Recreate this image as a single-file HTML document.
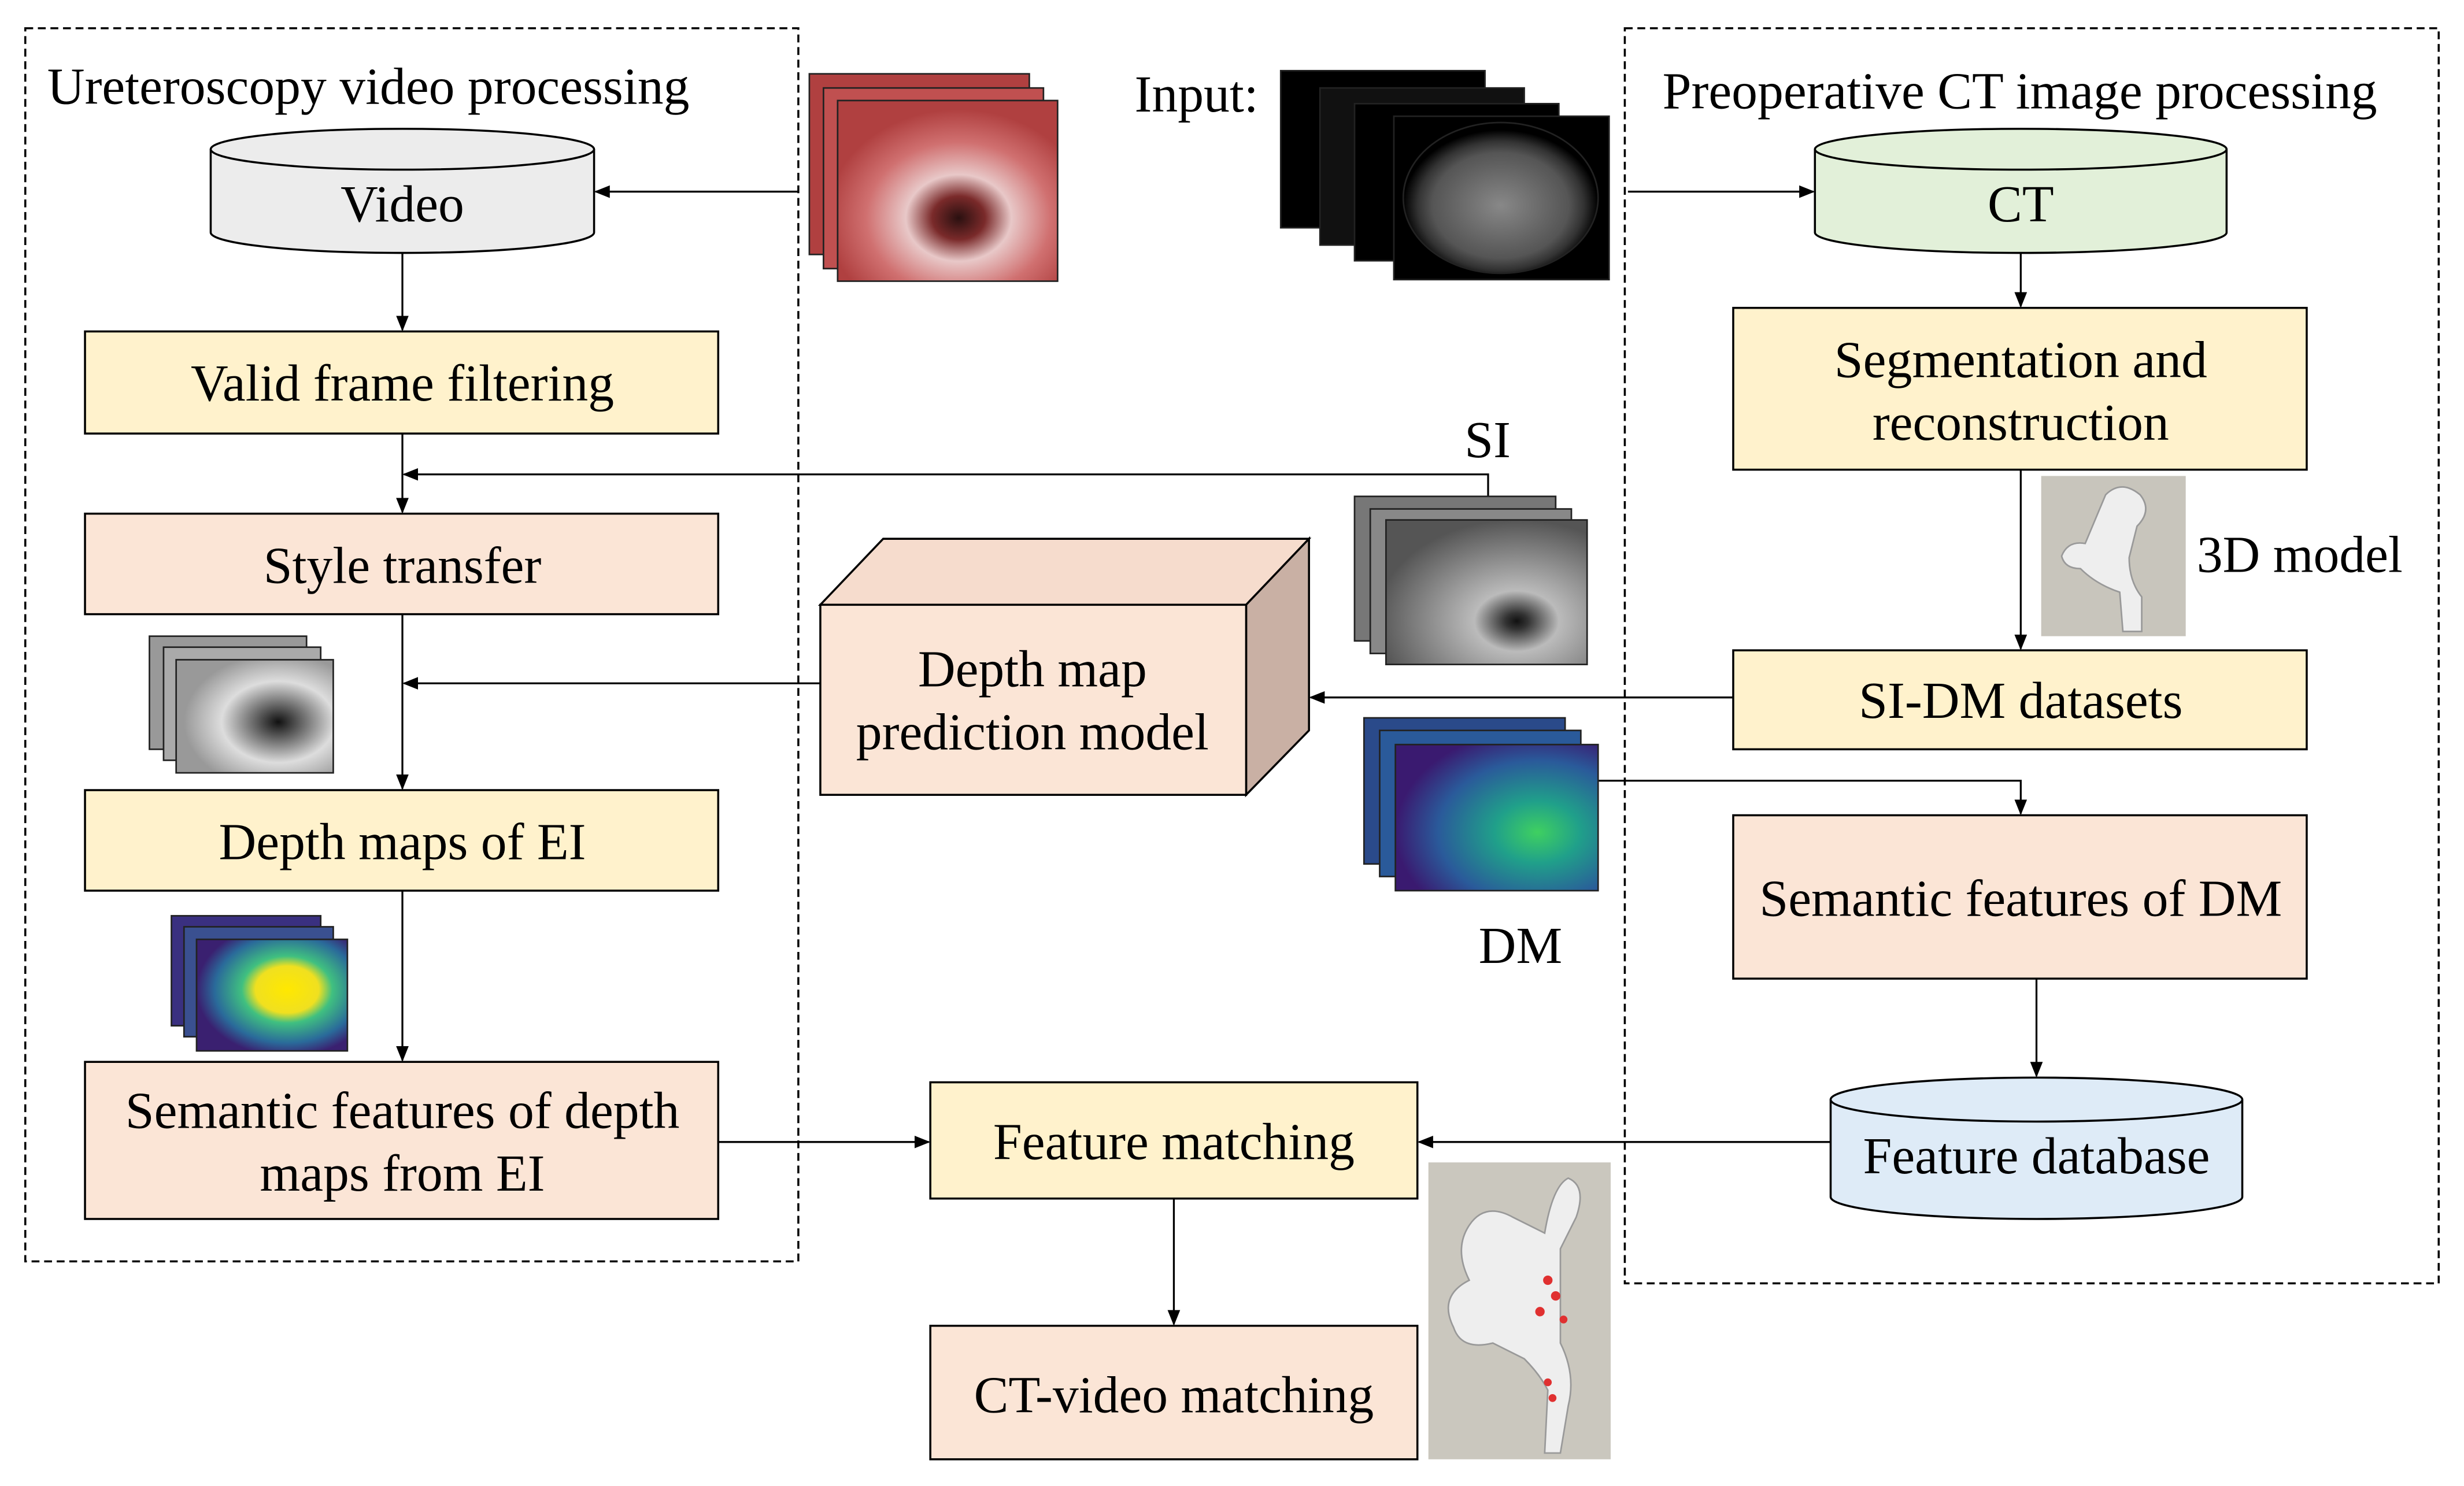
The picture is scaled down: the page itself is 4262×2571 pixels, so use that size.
<!DOCTYPE html>
<html><head><meta charset="utf-8"><style>
html,body{margin:0;padding:0;background:#fff;}
svg{display:block;}
text{font-family:"Liberation Serif",serif;fill:#000;}
</style></head><body>
<svg width="4262" height="2571" viewBox="0 0 1568 946" xmlns="http://www.w3.org/2000/svg">
<defs>
<marker id="a" markerWidth="10" markerHeight="10" refX="9" refY="5" orient="auto" markerUnits="userSpaceOnUse"><path d="M0,1 L10,5 L0,9 z" fill="#000"/></marker>
<radialGradient id="endo" cx="55%" cy="65%" r="60%"><stop offset="0" stop-color="#2a1010"/><stop offset="0.2" stop-color="#7a2a2a"/><stop offset="0.4" stop-color="#e8c8c8"/><stop offset="0.7" stop-color="#d07070"/><stop offset="1" stop-color="#b04040"/></radialGradient>
<radialGradient id="ct" cx="50%" cy="55%" r="50%"><stop offset="0" stop-color="#888"/><stop offset="0.7" stop-color="#555"/><stop offset="0.85" stop-color="#333"/><stop offset="1" stop-color="#000"/></radialGradient>
<radialGradient id="si" cx="65%" cy="70%" r="70%"><stop offset="0" stop-color="#111"/><stop offset="0.08" stop-color="#333"/><stop offset="0.3" stop-color="#bbb"/><stop offset="1" stop-color="#555"/></radialGradient>
<radialGradient id="dm" cx="70%" cy="60%" r="70%"><stop offset="0" stop-color="#3fd060"/><stop offset="0.3" stop-color="#20a08a"/><stop offset="0.7" stop-color="#2a5a9a"/><stop offset="1" stop-color="#3a1a70"/></radialGradient>
<radialGradient id="dm2" cx="60%" cy="45%" r="60%"><stop offset="0" stop-color="#ffe800"/><stop offset="0.35" stop-color="#f0e020"/><stop offset="0.5" stop-color="#40c080"/><stop offset="0.8" stop-color="#2a6a9a"/><stop offset="1" stop-color="#3a2070"/></radialGradient>
<radialGradient id="sg" cx="65%" cy="55%" r="60%"><stop offset="0" stop-color="#111"/><stop offset="0.25" stop-color="#666"/><stop offset="0.6" stop-color="#ddd"/><stop offset="1" stop-color="#999"/></radialGradient>
</defs>
<rect width="1568" height="946" fill="#fff"/>
<rect x="16" y="18" width="492" height="785" fill="none" stroke="#000" stroke-width="1.3" stroke-dasharray="5,3"/>
<rect x="1034" y="18" width="518" height="799" fill="none" stroke="#000" stroke-width="1.3" stroke-dasharray="5,3"/>
<text x="30" y="66" font-size="33">Ureteroscopy video processing</text>
<text x="1058" y="69" font-size="33">Preoperative CT image processing</text>
<text x="722" y="71" font-size="33">Input:</text>
<text x="932" y="291" font-size="33">SI</text>
<text x="1398" y="364" font-size="33">3D model</text>
<text x="941" y="613" font-size="33">DM</text>

<path d="M134,95 L134,148 A122,13 0 0 0 378,148 L378,95" fill="#ececec" stroke="#000" stroke-width="1.3"/>
<ellipse cx="256" cy="95" rx="122" ry="13" fill="#ececec" stroke="#000" stroke-width="1.3"/>
<text x="256" y="141" font-size="33" text-anchor="middle">Video</text>
<path d="M1155,95 L1155,148 A131,13 0 0 0 1417,148 L1417,95" fill="#e2f0d9" stroke="#000" stroke-width="1.3"/>
<ellipse cx="1286" cy="95" rx="131" ry="13" fill="#e2f0d9" stroke="#000" stroke-width="1.3"/>
<text x="1286" y="141" font-size="33" text-anchor="middle">CT</text>
<path d="M1165,700 L1165,762 A131,14 0 0 0 1427,762 L1427,700" fill="#deebf7" stroke="#000" stroke-width="1.3"/>
<ellipse cx="1296" cy="700" rx="131" ry="14" fill="#deebf7" stroke="#000" stroke-width="1.3"/>
<text x="1296" y="747" font-size="33" text-anchor="middle">Feature database</text>

<g stroke="#000" stroke-width="1.3">
<rect x="54" y="211" width="403" height="65" fill="#fff2cc"/>
<rect x="54" y="327" width="403" height="64" fill="#fbe5d6"/>
<rect x="54" y="503" width="403" height="64" fill="#fff2cc"/>
<rect x="54" y="676" width="403" height="100" fill="#fbe5d6"/>
<rect x="592" y="689" width="310" height="74" fill="#fff2cc"/>
<rect x="592" y="844" width="310" height="85" fill="#fbe5d6"/>
<rect x="1103" y="196" width="365" height="103" fill="#fff2cc"/>
<rect x="1103" y="414" width="365" height="63" fill="#fff2cc"/>
<rect x="1103" y="519" width="365" height="104" fill="#fbe5d6"/>
<polygon points="522,385 562,343 833,343 793,385" fill="#f6dccd"/>
<polygon points="793,385 833,343 833,465 793,506" fill="#c9b0a4"/>
<rect x="522" y="385" width="271" height="121" fill="#fbe5d6"/>
</g>
<g font-size="33" text-anchor="middle">
<text x="256" y="255">Valid frame filtering</text>
<text x="256" y="371">Style transfer</text>
<text x="256" y="547">Depth maps of EI</text>
<text x="256" y="718">Semantic features of depth</text>
<text x="256" y="758">maps from EI</text>
<text x="747" y="738">Feature matching</text>
<text x="747" y="899">CT-video matching</text>
<text x="1286" y="240">Segmentation and</text>
<text x="1286" y="280">reconstruction</text>
<text x="1286" y="457">SI-DM datasets</text>
<text x="1286" y="583">Semantic features of DM</text>
<text x="657" y="437">Depth map</text>
<text x="657" y="477">prediction model</text>
</g>

<g stroke="#000" stroke-width="1.2" fill="none">
<line x1="508" y1="122" x2="379" y2="122" marker-end="url(#a)"/>
<line x1="1036" y1="122" x2="1154" y2="122" marker-end="url(#a)"/>
<line x1="256" y1="161" x2="256" y2="210" marker-end="url(#a)"/>
<line x1="256" y1="276" x2="256" y2="326" marker-end="url(#a)"/>
<polyline points="947,318 947,302 257,302" marker-end="url(#a)"/>
<line x1="256" y1="391" x2="256" y2="502" marker-end="url(#a)"/>
<line x1="522" y1="435" x2="257" y2="435" marker-end="url(#a)"/>
<line x1="256" y1="567" x2="256" y2="675" marker-end="url(#a)"/>
<line x1="457" y1="727" x2="591" y2="727" marker-end="url(#a)"/>
<line x1="747" y1="763" x2="747" y2="843" marker-end="url(#a)"/>
<line x1="1286" y1="161" x2="1286" y2="195" marker-end="url(#a)"/>
<line x1="1286" y1="299" x2="1286" y2="413" marker-end="url(#a)"/>
<line x1="1103" y1="444" x2="834" y2="444" marker-end="url(#a)"/>
<polyline points="1017,497 1286,497 1286,518" marker-end="url(#a)"/>
<line x1="1296" y1="623" x2="1296" y2="685" marker-end="url(#a)"/>
<line x1="1165" y1="727" x2="903" y2="727" marker-end="url(#a)"/>
</g>

<g stroke="#222" stroke-width="1">
<rect x="515" y="47" width="140" height="115" fill="#b04040"/>
<rect x="524" y="56" width="140" height="115" fill="#c05050"/>
<rect x="533" y="64" width="140" height="115" fill="url(#endo)"/>
<rect x="815" y="45" width="130" height="100" fill="#000"/>
<rect x="840" y="56" width="130" height="100" fill="#111"/>
<rect x="862" y="66" width="130" height="100" fill="#000"/>
<rect x="887" y="74" width="137" height="104" fill="#000"/>
<ellipse cx="955" cy="126" rx="62" ry="48" fill="url(#ct)"/>
<rect x="862" y="316" width="128" height="92" fill="#777"/>
<rect x="872" y="324" width="128" height="92" fill="#888"/>
<rect x="882" y="331" width="128" height="92" fill="url(#si)"/>
<rect x="868" y="457" width="128" height="93" fill="#2a4a8a"/>
<rect x="878" y="465" width="128" height="93" fill="#2a5a9a"/>
<rect x="888" y="474" width="129" height="93" fill="url(#dm)"/>
<rect x="95" y="405" width="100" height="72" fill="#999"/>
<rect x="104" y="412" width="100" height="72" fill="#aaa"/>
<rect x="112" y="420" width="100" height="72" fill="url(#sg)"/>
<rect x="109" y="583" width="95" height="70" fill="#3a3080"/>
<rect x="117" y="590" width="95" height="70" fill="#3a5090"/>
<rect x="125" y="598" width="96" height="71" fill="url(#dm2)"/>
</g>
<rect x="1299" y="303" width="92" height="102" fill="#c8c5bc"/>
<path d="M1340,315 q10,-10 22,0 q8,10 -2,20 l-5,20 q0,15 8,25 l0,22 l-12,0 l-2,-25 q-15,-5 -25,-15 q-10,0 -12,-8 q4,-10 15,-8 z" fill="#eee" stroke="#999" stroke-width="1"/>
<rect x="909" y="740" width="116" height="189" fill="#cac7be"/>
<path d="M935,780 q10,-15 28,-5 l20,10 q5,-30 15,-35 q12,5 5,25 l-10,20 l0,60 q10,20 5,40 l-5,30 l-10,0 l2,-40 q-5,-10 -15,-20 l-20,-10 q-20,5 -25,-10 q-10,-20 10,-30 q-10,-20 0,-35 z" fill="#eee" stroke="#999" stroke-width="1"/>
<g fill="#e03030"><circle cx="985" cy="815" r="3"/><circle cx="990" cy="825" r="3"/><circle cx="980" cy="835" r="3"/><circle cx="995" cy="840" r="2.5"/><circle cx="985" cy="880" r="2.5"/><circle cx="988" cy="890" r="2.5"/></g>
</svg>
</body></html>
